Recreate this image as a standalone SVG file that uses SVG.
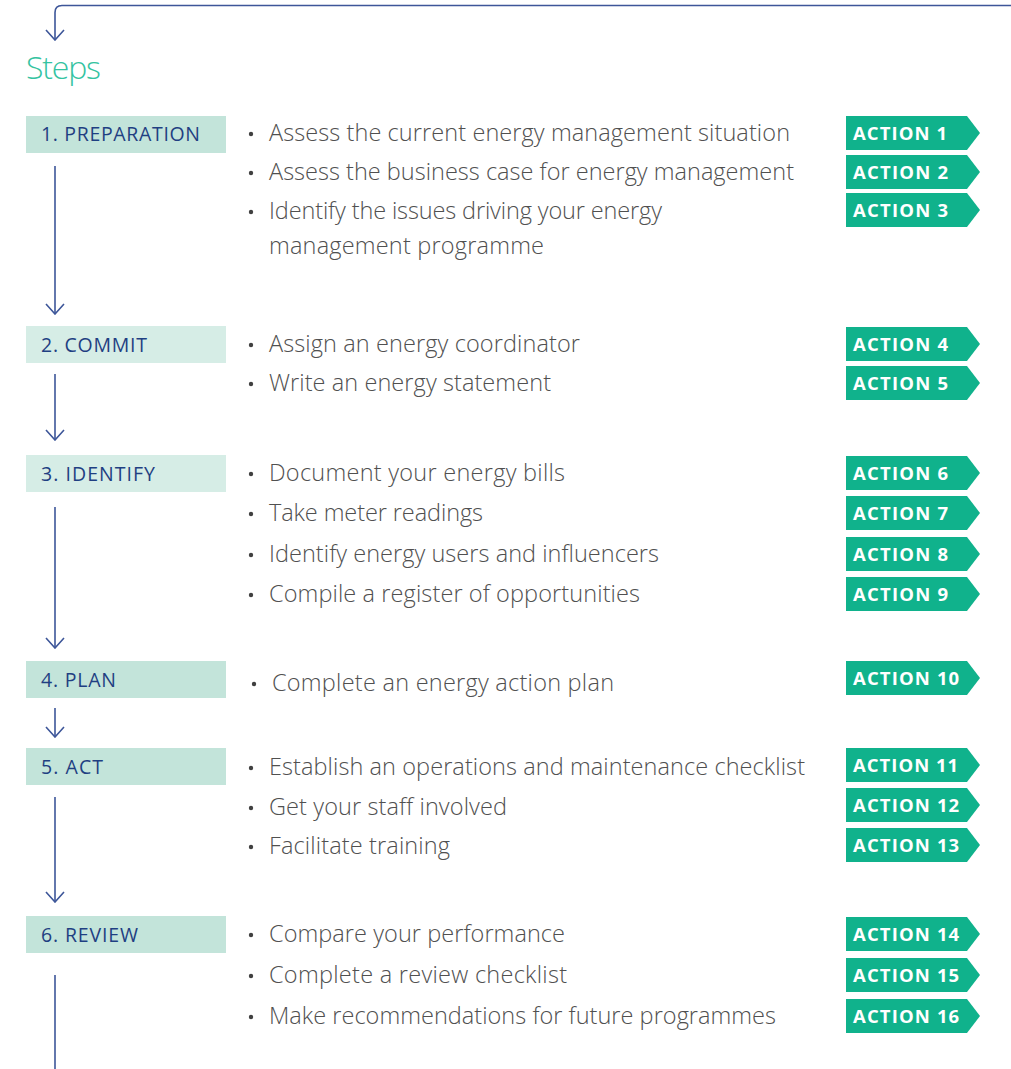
<svg xmlns="http://www.w3.org/2000/svg" width="1011" height="1069" viewBox="0 0 1011 1069">
  <style>
    .bg { fill: #ffffff; }
    .title { font-family: "Open Sans", "Liberation Sans", sans-serif; font-size: 32px; fill: #34c3a1; font-weight: 300; }
    .stepbox { fill: #c3e4da; }
    .stepbox.light { fill: #d6ede6; }
    .steplabel { font-family: "Open Sans", "Liberation Sans", sans-serif; font-size: 19.5px; fill: #1f3f82; }
    .item { font-family: "Open Sans", "Liberation Sans", sans-serif; font-size: 23.5px; fill: #505050; font-weight: 300; }
    .dot { fill: #404040; }
    .tag { fill: #10b28c; }
    .taglabel { font-family: "Open Sans", "Liberation Sans", sans-serif; font-size: 18.5px; font-weight: 700; fill: #ffffff; letter-spacing: 0.8px; }
    .flow { fill: none; stroke: #3d5699; stroke-width: 1.6; }
  </style>
  <defs>
    <marker id="chev" viewBox="0 0 12 20" refX="11" refY="10" markerWidth="12" markerHeight="20" markerUnits="userSpaceOnUse" orient="auto">
      <path d="M1,1 L11,10 L1,19" fill="none" stroke="#3d5699" stroke-width="1.6"/>
    </marker>
    <path id="tagshape" d="M0,0 H121 L134,17 L121,34 H0 Z"/>
  </defs>

  <rect class="bg" x="0" y="0" width="1011" height="1069"/>

  <text class="title" x="26" y="79" textLength="75">Steps</text>

  <!-- flow connectors between the steps -->
  <g id="connectors">
    <path class="flow" d="M1011,5.5 H62 Q55,5.5 55,12.5 V40" marker-end="url(#chev)"/>
    <path class="flow" d="M55,166 V314" marker-end="url(#chev)"/>
    <path class="flow" d="M55,374 V440" marker-end="url(#chev)"/>
    <path class="flow" d="M55,507 V648" marker-end="url(#chev)"/>
    <path class="flow" d="M55,708 V737" marker-end="url(#chev)"/>
    <path class="flow" d="M55,797 V902" marker-end="url(#chev)"/>
    <path class="flow" d="M55,975 V1069"/>
  </g>

  <!-- step 1 -->
  <g id="step-preparation">
    <rect class="stepbox" x="26" y="116" width="200" height="37"/>
    <text class="steplabel" x="41" y="141" textLength="159">1. PREPARATION</text>
    <circle class="dot" cx="251" cy="134" r="2.2"/>
    <text class="item" x="269" y="141" textLength="521">Assess the current energy management situation</text>
    <circle class="dot" cx="251" cy="173" r="2.2"/>
    <text class="item" x="269" y="180" textLength="525">Assess the business case for energy management</text>
    <circle class="dot" cx="251" cy="212" r="2.2"/>
    <text class="item" x="269" y="219" textLength="393">Identify the issues driving your energy</text>
    <text class="item" x="269" y="254" textLength="275">management programme</text>
    <use href="#tagshape" class="tag" x="846" y="116"/>
    <text class="taglabel" x="853" y="140" textLength="95">ACTION 1</text>
    <use href="#tagshape" class="tag" x="846" y="155"/>
    <text class="taglabel" x="853" y="179" textLength="96">ACTION 2</text>
    <use href="#tagshape" class="tag" x="846" y="193"/>
    <text class="taglabel" x="853" y="217" textLength="96">ACTION 3</text>
  </g>

  <!-- step 2 -->
  <g id="step-commit">
    <rect class="stepbox light" x="26" y="326" width="200" height="37"/>
    <text class="steplabel" x="41" y="352" textLength="106">2. COMMIT</text>
    <circle class="dot" cx="251" cy="345" r="2.2"/>
    <text class="item" x="269" y="352" textLength="311">Assign an energy coordinator</text>
    <circle class="dot" cx="251" cy="384" r="2.2"/>
    <text class="item" x="269" y="391" textLength="282">Write an energy statement</text>
    <use href="#tagshape" class="tag" x="846" y="327"/>
    <text class="taglabel" x="853" y="351" textLength="96">ACTION 4</text>
    <use href="#tagshape" class="tag" x="846" y="366"/>
    <text class="taglabel" x="853" y="390" textLength="96">ACTION 5</text>
  </g>

  <!-- step 3 -->
  <g id="step-identify">
    <rect class="stepbox light" x="26" y="455" width="200" height="37"/>
    <text class="steplabel" x="41" y="481" textLength="114">3. IDENTIFY</text>
    <circle class="dot" cx="251" cy="474" r="2.2"/>
    <text class="item" x="269" y="481" textLength="296">Document your energy bills</text>
    <circle class="dot" cx="251" cy="514" r="2.2"/>
    <text class="item" x="269" y="521" textLength="214">Take meter readings</text>
    <circle class="dot" cx="251" cy="555" r="2.2"/>
    <text class="item" x="269" y="562" textLength="390">Identify energy users and influencers</text>
    <circle class="dot" cx="251" cy="595" r="2.2"/>
    <text class="item" x="269" y="602" textLength="371">Compile a register of opportunities</text>
    <use href="#tagshape" class="tag" x="846" y="456"/>
    <text class="taglabel" x="853" y="480" textLength="96">ACTION 6</text>
    <use href="#tagshape" class="tag" x="846" y="496"/>
    <text class="taglabel" x="853" y="520" textLength="96">ACTION 7</text>
    <use href="#tagshape" class="tag" x="846" y="537"/>
    <text class="taglabel" x="853" y="561" textLength="96">ACTION 8</text>
    <use href="#tagshape" class="tag" x="846" y="577"/>
    <text class="taglabel" x="853" y="601" textLength="96">ACTION 9</text>
  </g>

  <!-- step 4 -->
  <g id="step-plan">
    <rect class="stepbox" x="26" y="661" width="200" height="37"/>
    <text class="steplabel" x="41" y="687" textLength="75">4. PLAN</text>
    <circle class="dot" cx="254" cy="684" r="2.2"/>
    <text class="item" x="272" y="691" textLength="342">Complete an energy action plan</text>
    <use href="#tagshape" class="tag" x="846" y="661"/>
    <text class="taglabel" x="853" y="685" textLength="107">ACTION 10</text>
  </g>

  <!-- step 5 -->
  <g id="step-act">
    <rect class="stepbox" x="26" y="748" width="200" height="37"/>
    <text class="steplabel" x="41" y="774" textLength="62">5. ACT</text>
    <circle class="dot" cx="251" cy="768" r="2.2"/>
    <text class="item" x="269" y="775" textLength="536">Establish an operations and maintenance checklist</text>
    <circle class="dot" cx="251" cy="808" r="2.2"/>
    <text class="item" x="269" y="815" textLength="238">Get your staff involved</text>
    <circle class="dot" cx="251" cy="847" r="2.2"/>
    <text class="item" x="269" y="854" textLength="181">Facilitate training</text>
    <use href="#tagshape" class="tag" x="846" y="748"/>
    <text class="taglabel" x="853" y="772" textLength="106">ACTION 11</text>
    <use href="#tagshape" class="tag" x="846" y="788"/>
    <text class="taglabel" x="853" y="812" textLength="107">ACTION 12</text>
    <use href="#tagshape" class="tag" x="846" y="828"/>
    <text class="taglabel" x="853" y="852" textLength="107">ACTION 13</text>
  </g>

  <!-- step 6 -->
  <g id="step-review">
    <rect class="stepbox" x="26" y="916" width="200" height="37"/>
    <text class="steplabel" x="41" y="942" textLength="97">6. REVIEW</text>
    <circle class="dot" cx="251" cy="935" r="2.2"/>
    <text class="item" x="269" y="942" textLength="296">Compare your performance</text>
    <circle class="dot" cx="251" cy="976" r="2.2"/>
    <text class="item" x="269" y="983" textLength="298">Complete a review checklist</text>
    <circle class="dot" cx="251" cy="1017" r="2.2"/>
    <text class="item" x="269" y="1024" textLength="507">Make recommendations for future programmes</text>
    <use href="#tagshape" class="tag" x="846" y="917"/>
    <text class="taglabel" x="853" y="941" textLength="107">ACTION 14</text>
    <use href="#tagshape" class="tag" x="846" y="958"/>
    <text class="taglabel" x="853" y="982" textLength="107">ACTION 15</text>
    <use href="#tagshape" class="tag" x="846" y="999"/>
    <text class="taglabel" x="853" y="1023" textLength="107">ACTION 16</text>
  </g>
</svg>
